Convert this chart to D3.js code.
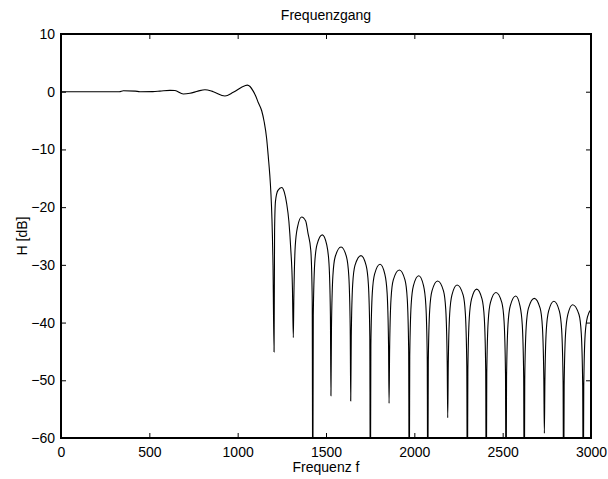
<!DOCTYPE html>
<html>
<head>
<meta charset="utf-8">
<script src="https://cdn.jsdelivr.net/npm/d3@7"></script>
<style>
  html, body { margin: 0; padding: 0; background: #fff; }
  svg { display: block; }
  text { font-family: Arial, "Liberation Sans", Helvetica, sans-serif; fill: #000; }
</style>
</head>
<body>
<svg id="chart" width="608" height="479"></svg>
<script>
// ---- data ----
const title = "Frequenzgang";
const xLabel = "Frequenz f";
const yLabel = "H [dB]";
const xTicks = [0, 500, 1000, 1500, 2000, 2500, 3000];
const yTicks = [-60, -50, -40, -30, -20, -10, 0, 10];

// passband + transition: [frequency, dB]
const passband = [
  [0, 0], [330, 0], [353, 0.17], [420, 0.1], [447, 0], [520, 0.02], [560, 0.1],
  [617, 0.24], [645, 0.2], [692, -0.4], [730, -0.28], [775, 0.1], [815, 0.35],
  [862, 0.0], [928, -0.75], [975, -0.1], [1041, 1.05], [1055, 1.15], [1070, 0.9],
  [1088, 0.1], [1100, -0.6], [1117, -1.9], [1136, -3.3], [1150, -5.2],
  [1164, -8.1], [1174, -11.5], [1182, -14.5], [1188, -17.5], [1194, -22],
  [1200, -30]
];

// stopband side lobes and nulls: [frequency, dB]
const stopband = [
  [1206, -45.1],
  [1209, -24], [1214, -19], [1228, -17.1], [1249, -16.6], [1264, -17.4],
  [1277, -19.3], [1290, -22.5], [1300, -27], [1310, -34],
  [1315, -42.6],
  [1318, -35.7], [1326, -26.7], [1339, -23.4], [1362, -21.7], [1385, -22.4],
  [1398, -24.5], [1414, -27.5], [1422, -36],
  [1425, -75],
  [1428, -38.8], [1436, -29.8], [1449, -26.5], [1479, -24.8], [1504, -26.5],
  [1517, -29.8], [1525, -38.8],
  [1528, -52.7],
  [1531, -40.9], [1539, -31.9], [1552, -28.6], [1585, -26.9], [1616, -28.6],
  [1629, -31.9], [1637, -40.9],
  [1640, -53.6],
  [1643, -42.4], [1651, -33.4], [1664, -30.1], [1698, -28.4], [1727, -30.1],
  [1740, -33.4], [1748, -42.4],
  [1751, -75],
  [1754, -43.9], [1762, -34.9], [1775, -31.6], [1806, -29.9], [1833, -31.6],
  [1846, -34.9], [1854, -43.9],
  [1857, -54],
  [1860, -44.9], [1868, -35.9], [1881, -32.6], [1915, -30.9], [1947, -32.6],
  [1960, -35.9], [1968, -44.9],
  [1971, -75],
  [1974, -45.9], [1982, -36.9], [1995, -33.6], [2025, -31.9], [2052, -33.6],
  [2065, -36.9], [2073, -45.9],
  [2076, -75],
  [2079, -46.8], [2087, -37.8], [2100, -34.5], [2132, -32.8], [2165, -34.5],
  [2178, -37.8], [2186, -46.8],
  [2189, -56.5],
  [2192, -47.5], [2200, -38.5], [2213, -35.2], [2242, -33.5], [2276, -35.2],
  [2289, -38.5], [2297, -47.5],
  [2300, -75],
  [2303, -48.2], [2311, -39.2], [2324, -35.9], [2353, -34.2], [2383, -35.9],
  [2396, -39.2], [2404, -48.2],
  [2407, -75],
  [2410, -48.8], [2418, -39.8], [2431, -36.5], [2462, -34.8], [2495, -36.5],
  [2508, -39.8], [2516, -48.8],
  [2519, -75],
  [2522, -49.4], [2530, -40.4], [2543, -37.1], [2574, -35.4], [2598, -37.1],
  [2611, -40.4], [2619, -49.4],
  [2622, -75],
  [2625, -49.8], [2633, -40.8], [2646, -37.5], [2679, -35.8], [2712, -37.5],
  [2725, -40.8], [2733, -49.8],
  [2736, -59.2],
  [2739, -50.3], [2747, -41.3], [2760, -38], [2790, -36.3], [2821, -38],
  [2834, -41.3], [2842, -50.3],
  [2845, -75],
  [2848, -50.9], [2856, -41.9], [2869, -38.6], [2896, -36.9], [2932, -38.6],
  [2945, -41.9], [2953, -50.9],
  [2956, -75],
  [2959, -51], [2967, -42], [2980, -39], [3000, -37.7]
];

// ---- drawing ----
const svg = d3.select("#chart");
const mLeft = 61, mRight = 591, mTop = 34, mBottom = 438;

const x = d3.scaleLinear().domain([0, 3000]).range([mLeft, mRight]);
const y = d3.scaleLinear().domain([-60, 10]).range([mBottom, mTop]);

svg.append("rect").attr("width", 608).attr("height", 479).attr("fill", "#fff");

svg.append("defs").append("clipPath").attr("id", "plotclip")
  .append("rect").attr("x", mLeft).attr("y", mTop)
  .attr("width", mRight - mLeft).attr("height", mBottom - mTop);

const data = passband.concat(stopband);

const line = d3.line()
  .x(d => x(d[0]))
  .y(d => y(d[1]))
  .curve(d3.curveMonotoneX);

svg.append("path")
  .datum(data)
  .attr("clip-path", "url(#plotclip)")
  .attr("fill", "none")
  .attr("stroke", "#000")
  .attr("stroke-width", 1.1)
  .attr("stroke-linejoin", "round")
  .attr("d", line);

const fontSize = 14;

const gB = svg.append("g").attr("transform", `translate(0,${mBottom})`)
  .call(d3.axisBottom(x).tickValues(xTicks).tickFormat(d3.format("d"))
    .tickSizeInner(-5).tickSizeOuter(0).tickPadding(9));
const gT = svg.append("g").attr("transform", `translate(0,${mTop})`)
  .call(d3.axisTop(x).tickValues(xTicks).tickFormat("")
    .tickSizeInner(-5).tickSizeOuter(0));
const gL = svg.append("g").attr("transform", `translate(${mLeft},0)`)
  .call(d3.axisLeft(y).tickValues(yTicks).tickFormat(d3.format("d"))
    .tickSizeInner(-5).tickSizeOuter(0).tickPadding(6));
const gR = svg.append("g").attr("transform", `translate(${mRight},0)`)
  .call(d3.axisRight(y).tickValues(yTicks).tickFormat("")
    .tickSizeInner(-5).tickSizeOuter(0));

[gB, gT, gL, gR].forEach(g => {
  g.select(".domain").remove();
  g.selectAll(".tick line").attr("stroke", "#000").attr("stroke-width", 1);
  g.selectAll("text").attr("font-size", fontSize)
    .attr("font-family", "Arial, 'Liberation Sans', sans-serif").attr("fill", "#000");
});

svg.append("rect")
  .attr("x", mLeft).attr("y", mTop)
  .attr("width", mRight - mLeft).attr("height", mBottom - mTop)
  .attr("fill", "none").attr("stroke", "#000").attr("stroke-width", 2);

svg.append("text")
  .attr("x", (mLeft + mRight) / 2).attr("y", 20)
  .attr("text-anchor", "middle").attr("font-size", fontSize)
  .text(title);

svg.append("text")
  .attr("x", (mLeft + mRight) / 2).attr("y", 472)
  .attr("text-anchor", "middle").attr("font-size", fontSize)
  .text(xLabel);

svg.append("text")
  .attr("transform", `translate(27,${(mTop + mBottom) / 2}) rotate(-90)`)
  .attr("text-anchor", "middle").attr("font-size", fontSize)
  .text(yLabel);
</script>
</body>
</html>
